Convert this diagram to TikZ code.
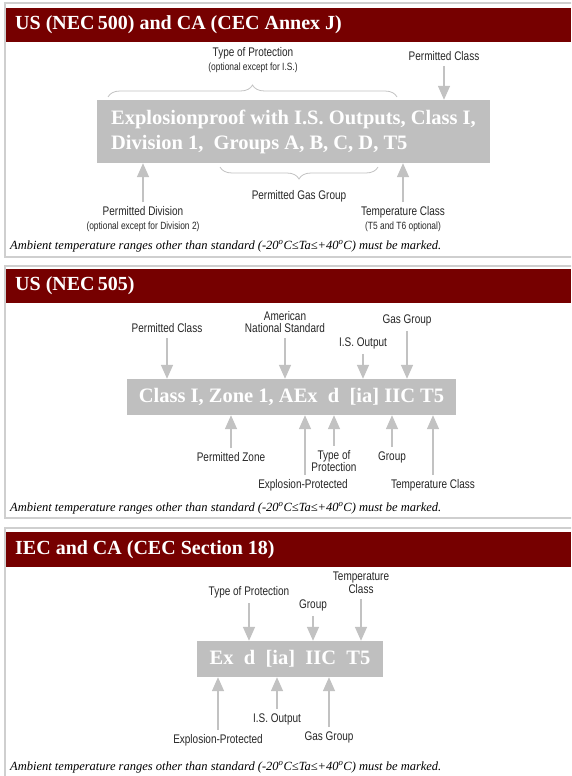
\documentclass[tikz,border=0pt]{standalone}
\usepackage{fontspec}
\setmainfont{Liberation Serif}
\newfontfamily\lblfont[FakeStretch=0.8]{Liberation Sans}
\usetikzlibrary{arrows.meta,decorations.pathreplacing}
\definecolor{hdrred}{HTML}{760000}
\definecolor{plategray}{HTML}{BFBFBF}
\definecolor{arrgray}{HTML}{C2C2C2}
\definecolor{framegray}{HTML}{CFCFCF}
\definecolor{lbltext}{HTML}{262626}

\begin{document}
\begin{tikzpicture}[x=1pt, y=-1pt, >={Triangle[width=12pt,length=14pt]}]
        \tikzstyle{frame}=[draw=framegray, line width=2pt]
        \tikzstyle{hdr}=[fill=hdrred]
        \tikzstyle{hdrtxt}=[anchor=west, text=white, inner sep=0pt, font=\fontsize{20}{24}\selectfont\bfseries]
        \tikzstyle{plate}=[fill=plategray, text=white, inner sep=0pt, font=\fontsize{20.5}{21}\selectfont\bfseries]
        \tikzstyle{lbl}=[text=lbltext, align=center, inner sep=1pt, font=\lblfont\fontsize{12.5}{12.5}\selectfont]
        \tikzstyle{pointer}=[->, draw=arrgray, line width=1.5pt]
        \tikzstyle{brc}=[decorate, decoration={brace, amplitude=12pt}, draw=arrgray, line width=0.8pt]
        \tikzstyle{note}=[anchor=west, inner sep=0pt, font=\itshape\fontsize{12.5}{14}\selectfont]
        \newcommand{\sublbl}{\fontsize{10.5}{11}\selectfont}

        \clip (0,0) rectangle (571,776);

        % Panel frames and headers
        \draw[frame] (5,3) rectangle (600,257);
        \draw[frame] (5,266) rectangle (600,518);
        \draw[frame] (5,528) rectangle (600,800);
        \fill[hdr] (6,8) rectangle (571,42);
        \fill[hdr] (6,269) rectangle (571,303);
        \fill[hdr] (6,532) rectangle (571,567);
        \node[hdrtxt] (h1) at (15,25) {US (NEC\,500) and CA (CEC Annex J)};
        \node[hdrtxt] (h2) at (15,286) {US (NEC\,505)};
        \node[hdrtxt] (h3) at (15,550) {IEC and CA (CEC Section 18)};

        % Panel 1
        \node[plate, minimum width=393pt, minimum height=63pt, align=left] (p1) at (293.5,131.5)
            {Explosionproof with I.S. Outputs, Class I,\\[4pt] Division 1,\ \ Groups A, B, C, D, T5};
        \node[lbl] (p1tp) at (253,60) {Type of Protection\\[1pt]{\sublbl (optional except for I.S.)}};
        \node[lbl] (p1pc) at (444,56) {Permitted Class};
        \node[lbl] (p1pd) at (143,219) {Permitted Division\\[1pt]{\sublbl (optional except for Division 2)}};
        \node[lbl] (p1gg) at (299,196) {Permitted Gas Group};
        \node[lbl] (p1tc) at (403,219) {Temperature Class\\[1pt]{\sublbl (T5 and T6 optional)}};
        \coordinate (b1l) at (108,97);
        \coordinate (b1r) at (397,97);
        \coordinate (b2l) at (220,167);
        \coordinate (b2r) at (378,167);
        \draw[brc] (b1l) -- (b1r);
        \draw[brc] (b2r) -- (b2l);
        \draw[pointer, shorten <=4pt] (p1pc.south) -- (p1pc.south |- p1.north);
        \draw[pointer, shorten <=3pt] (p1pd.north) -- (p1pd.north |- p1.south);
        \draw[pointer, shorten <=3pt] (p1tc.north) -- (p1tc.north |- p1.south);
        \node[note] (n1) at (10,246) {Ambient temperature ranges other than standard (-20\textsuperscript{o}C≤Ta≤+40\textsuperscript{o}C) must be marked.};

        % Panel 2
        \node[plate, minimum width=329pt, minimum height=36pt] (p2) at (291.5,397)
            {Class I, Zone 1, AEx\ \ d\ \ [ia] IIC T5};
        \node[lbl] (p2pc) at (167,328) {Permitted Class};
        \node[lbl] (p2ans) at (285,322) {American\\National Standard};
        \node[lbl] (p2iso) at (363,343) {I.S. Output};
        \node[lbl] (p2gg) at (407,320) {Gas Group};
        \node[lbl] (p2pz) at (231,457) {Permitted Zone};
        \node[lbl] (p2ep) at (303,485) {Explosion-Protected};
        \node[lbl] (p2tp) at (334,461) {Type of\\Protection};
        \node[lbl] (p2gr) at (392,457) {Group};
        \node[lbl] (p2tc) at (433,485) {Temperature Class};
        \draw[pointer, shorten <=4pt] (p2pc.south) -- (p2pc.south |- p2.north);
        \draw[pointer, shorten <=4pt] (p2ans.south) -- (p2ans.south |- p2.north);
        \draw[pointer, shorten <=4pt] (p2iso.south) -- (p2iso.south |- p2.north);
        \draw[pointer, shorten <=4pt] (p2gg.south) -- (p2gg.south |- p2.north);
        \draw[pointer, shorten <=3pt] (p2pz.north) -- (p2pz.north |- p2.south);
        \draw[pointer, shorten <=3pt] ([xshift=2pt]p2ep.north) -- ([xshift=2pt]p2ep.north |- p2.south);
        \draw[pointer, shorten <=3pt] (p2tp.north) -- (p2tp.north |- p2.south);
        \draw[pointer, shorten <=3pt] (p2gr.north) -- (p2gr.north |- p2.south);
        \draw[pointer, shorten <=3pt] (p2tc.north) -- (p2tc.north |- p2.south);
        \node[note] (n2) at (10,508) {Ambient temperature ranges other than standard (-20\textsuperscript{o}C≤Ta≤+40\textsuperscript{o}C) must be marked.};

        % Panel 3
        \node[plate, minimum width=186pt, minimum height=36pt] (p3) at (290,659)
            {Ex\ \ d\ \ [ia]\ \ IIC\ \ T5};
        \node[lbl] (p3tp) at (249,592) {Type of Protection};
        \node[lbl] (p3gr) at (313,605) {Group};
        \node[lbl] (p3tc) at (361,583) {Temperature\\Class};
        \node[lbl] (p3ep) at (218,740) {Explosion-Protected};
        \node[lbl] (p3iso) at (277,719) {I.S. Output};
        \node[lbl] (p3gg) at (329,737) {Gas Group};
        \draw[pointer, shorten <=4pt] (p3tp.south) -- (p3tp.south |- p3.north);
        \draw[pointer, shorten <=4pt] (p3gr.south) -- (p3gr.south |- p3.north);
        \draw[pointer, shorten <=4pt] (p3tc.south) -- (p3tc.south |- p3.north);
        \draw[pointer, shorten <=3pt] (p3ep.north) -- (p3ep.north |- p3.south);
        \draw[pointer, shorten <=3pt] (p3iso.north) -- (p3iso.north |- p3.south);
        \draw[pointer, shorten <=3pt] (p3gg.north) -- (p3gg.north |- p3.south);
        \node[note] (n3) at (10,767) {Ambient temperature ranges other than standard (-20\textsuperscript{o}C≤Ta≤+40\textsuperscript{o}C) must be marked.};
\end{tikzpicture}
\end{document}
